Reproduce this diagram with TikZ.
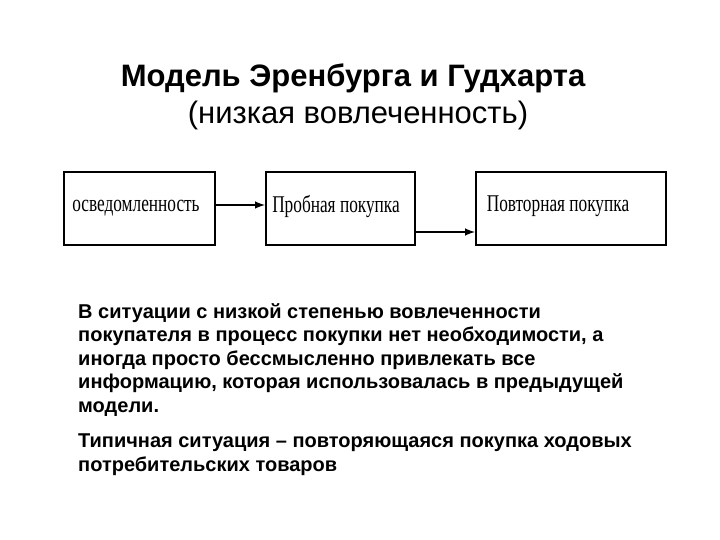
\documentclass[tikz,border=0pt]{standalone}
\usepackage{fontspec}
\setmainfont{Liberation Sans}
\newfontfamily\boxfont{Liberation Serif}
\begin{document}
\begin{tikzpicture}[x=1pt,y=-1pt,
  bx/.style={draw,line width=2pt,minimum height=73pt,inner sep=0pt},
  lbl/.style={font=\boxfont\fontsize{24}{26}\selectfont},
  arr/.style={-latex,line width=2.4pt},
  body/.style={anchor=north west,align=left,font=\bfseries\fontsize{20}{23.5}\selectfont,inner sep=0pt}]
\useasboundingbox (0,0) rectangle (720,540);
\node (t1) at (353,78) {\bfseries\fontsize{31}{34}\selectfont Модель Эренбурга и Гудхарта};
\node (t2) at (358,115) {\fontsize{31}{34}\selectfont (низкая вовлеченность)};
\node[bx,minimum width=151pt] (a) at (139.5,208.5) {};
\node[bx,minimum width=149pt] (b) at (340.5,208.5) {};
\node[bx,minimum width=190pt] (c) at (571,208.5) {};
\node[lbl] (la) at (136,208) {\scalebox{0.72}[1]{осведомленность}};
\node[lbl] (lb) at (336,206) {\scalebox{0.72}[1]{Пробная покупка}};
\node[lbl] (lc) at (558,206) {\scalebox{0.72}[1]{Повторная покупка}};
\coordinate (a1) at (a.east |- 0,205);
\coordinate (b1) at (b.west |- 0,205);
\coordinate (b2) at (b.east |- 0,232);
\coordinate (c2) at (c.west |- 0,232);
\draw[arr] (a1) -- (b1);
\draw[arr] (b2) -- (c2);
\node[body] (p1) at (78,303) {В ситуации с низкой степенью вовлеченности\\покупателя в процесс покупки нет необходимости, а\\иногда просто бессмысленно привлекать все\\информацию, которая использовалась в предыдущей\\модели.};
\node[body] (p2) at (78,434) {Типичная ситуация – повторяющаяся покупка ходовых\\потребительских товаров};
\end{tikzpicture}
\end{document}
